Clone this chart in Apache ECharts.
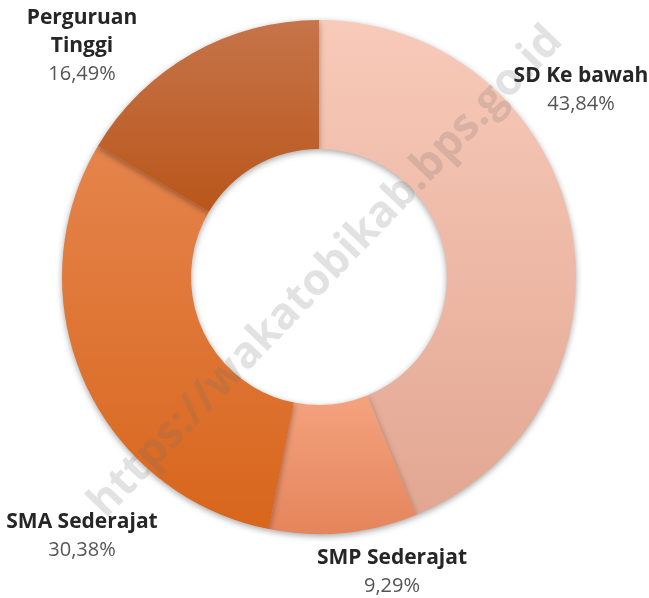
<!DOCTYPE html>
<html>
<head>
<meta charset="UTF-8">
<title>Pendidikan</title>
<script src="https://cdn.jsdelivr.net/npm/echarts@6/dist/echarts.min.js"></script>
<style>
html, body {
	margin: 0;
	padding: 0;
	background: #ffffff;
}

#main {
	width: 649px;
	height: 598px;
}
</style>
</head>
<body>
	<div id="main"></div>
	<script>
		// data
		var categories = [ 'SD Ke bawah', 'SMP Sederajat', 'SMA Sederajat', 'Perguruan Tinggi' ];
		var values = [ 43.84, 9.29, 30.38, 16.49 ];

		// colours (top, bottom of each slice)
		var colorTop = [ '#f8cab9', '#f4a27e', '#e5844c', '#c6744a' ];
		var colorBottom = [ '#e2a792', '#e5855c', '#d8661c', '#b9561a' ];

		// label anchors (centre of the text block)
		var labelPos = [ [ 581, 90 ], [ 392, 572 ], [ 82, 536 ], [ 82, 46 ] ];

		var myChart = echarts.init(document.getElementById('main'));

		var pieData = [];
		for (var i = 0; i < categories.length; i++) {
			pieData.push({
				name : categories[i],
				value : values[i],
				itemStyle : {
					color : new echarts.graphic.LinearGradient(0, 0, 0, 1, [
						{ offset : 0, color : colorTop[i] },
						{ offset : 1, color : colorBottom[i] } ])
				}
			});
		}

		var option = {
			animation : false,
			series : [ {
				type : 'pie',
				center : [ 319, 277 ],
				radius : [ 128, 257 ],
				startAngle : 90,
				clockwise : true,
				data : pieData,
				itemStyle : {
					borderWidth : 0,
					shadowBlur : 6,
					shadowOffsetY : 2,
					shadowColor : 'rgba(0, 0, 0, 0.35)'
				},
				label : {
					show : true,
					position : 'outside',
					overflow : 'none',
					width : 300,
					formatter : function(p) {
						var name = p.name.replace('Perguruan ', 'Perguruan\n');
						var lines = name.split('\n').map(function(s) {
							return '{n|' + s + '}';
						});
						return lines.join('\n') + '\n{v|' + p.value.toFixed(2).replace('.', ',') + '%}';
					},
					rich : {
						n : {
							fontFamily : 'Open Sans',
							fontWeight : 'bold',
							fontSize : 21,
							lineHeight : 28,
							color : '#262626',
							align : 'center'
						},
						v : {
							fontFamily : 'Open Sans',
							fontSize : 20,
							lineHeight : 28,
							color : '#555555',
							align : 'center'
						}
					}
				},
				labelLine : {
					show : false
				},
				labelLayout : function(params) {
					var p = labelPos[params.dataIndex];
					return {
						x : p[0],
						y : p[1],
						align : 'center',
						verticalAlign : 'middle'
					};
				}
			} ],
			graphic : [ {
				type : 'text',
				x : 326,
				y : 272,
				rotation : Math.PI / 4 + 0.02,
				z : 100,
				style : {
					text : 'https://wakatobikab.bps.go.id',
					font : 'bold 44px "Open Sans"',
					fill : 'rgba(110, 110, 110, 0.2)',
					align : 'center',
					verticalAlign : 'middle'
				}
			} ]
		};
		myChart.setOption(option);
	</script>
</body>
</html>
